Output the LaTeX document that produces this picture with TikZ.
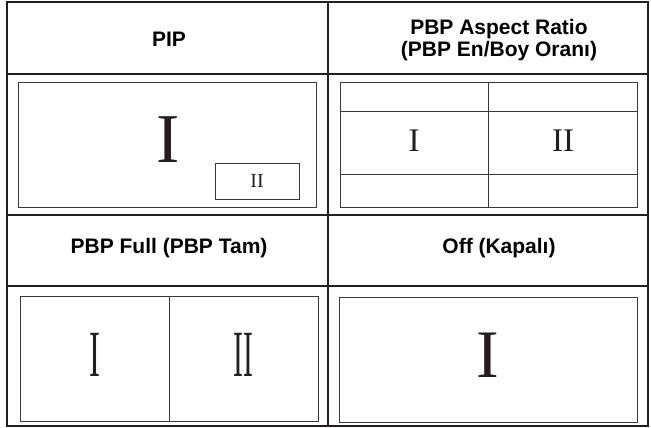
\documentclass[tikz,border=0pt]{standalone}
\usepackage{fontspec}
\newfontfamily\headfont{Liberation Sans}
\newfontfamily\numfont{Liberation Serif}
\definecolor{LineDark}{HTML}{231f20}
\definecolor{ScreenGray}{HTML}{3a3a3a}
\usetikzlibrary{positioning, calc}

\begin{document}
\begin{tikzpicture}[
  x=1pt, y=-1pt,
  grid/.style={draw=LineDark, line width=2pt},
  thin/.style={draw=ScreenGray, line width=1pt},
  screen/.style={thin, inner sep=0pt, minimum width=298pt,
                 minimum height=124pt},
  inset/.style={screen, minimum width=84pt, minimum height=36pt},
  title/.style={font=\headfont\bfseries\fontsize{21}{22}\selectfont,
                align=center, text=black},
  num/.style={font=\numfont\fontsize{#1}{#1}\selectfont, inner sep=0pt,
              text=LineDark}
]
  \useasboundingbox (0,0) rectangle (651,428);

  % Table grid
  \draw[grid] (7,2) rectangle (648,426);
  \draw[grid] (7,74) -- (648,74);
  \draw[grid] (7,215) -- (648,215);
  \draw[grid] (7,286) -- (648,286);
  \draw[grid] (327.5,2) -- (327.5,426);

  % Headers
  \node[title] (pipT)  at (169,39.5) {PIP};
  \node[title] (aspT)  at (499,40.3) {PBP Aspect Ratio\\(PBP En/Boy Oranı)};
  \node[title] (fullT) at (169,248)  {PBP Full (PBP Tam)};
  \node[title] (offT)  at (499,248)  {Off (Kapalı)};

  % PIP
  \node[screen] (pip) at (167,145) {};
  \node[inset] (pipsub) at (257,181) {};
  \node[num=70] (pipI) at (168,140) {I};
  \node[num=20] (pipII) at (pipsub) {II};

  % PBP aspect ratio
  \node[screen, minimum width=297pt] (asp) at (488.5,145) {};
  \draw[thin] (asp.north) -- (asp.south);
  \draw[thin] ($(asp.north west)+(0,29)$) -- ($(asp.north east)+(0,29)$);
  \draw[thin] ($(asp.south west)+(0,-33)$) -- ($(asp.south east)+(0,-33)$);
  \node[num=33] (aspI)  at (414,141) {I};
  \node[num=33] (aspII) at (563,141) {II};

  % PBP full
  \node[screen, minimum height=125pt] (full) at (169,358.5) {};
  \draw[thin] (full.north) -- (full.south);
  \node[num=66] (fullI)  at (95,355)  {\scalebox{0.5}[1]{I}};
  \node[num=66] (fullII) at (243,355) {\scalebox{0.45}[1]{II}};

  % Off
  \node[screen, minimum height=125pt] (off) at (488,359.5) {};
  \node[num=68] (offI) at (488,355) {I};
\end{tikzpicture}
\end{document}
